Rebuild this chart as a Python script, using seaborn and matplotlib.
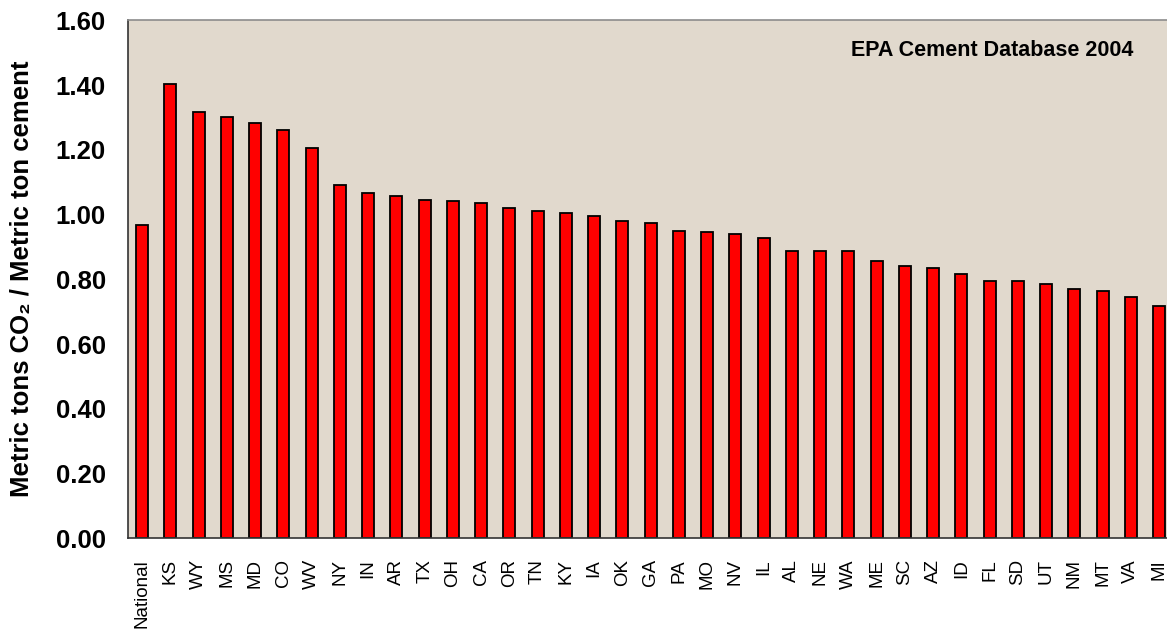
import matplotlib
matplotlib.use("Agg")
import matplotlib.pyplot as plt
import seaborn as sns
import numpy as np
from matplotlib.ticker import FormatStrFormatter, FixedLocator

# values
states = ["National", "KS", "WY", "MS", "MD", "CO", "WV", "NY", "IN", "AR",
          "TX", "OH", "CA", "OR", "TN", "KY", "IA", "OK", "GA", "PA",
          "MO", "NV", "IL", "AL", "NE", "WA", "ME", "SC", "AZ", "ID",
          "FL", "SD", "UT", "NM", "MT", "VA", "MI"]
co2_per_ton = [0.969, 1.405, 1.318, 1.303, 1.283, 1.262, 1.205, 1.092, 1.067, 1.057,
               1.046, 1.041, 1.036, 1.021, 1.010, 1.005, 0.995, 0.981, 0.975, 0.950,
               0.945, 0.939, 0.929, 0.888, 0.888, 0.888, 0.857, 0.842, 0.836, 0.816,
               0.795, 0.795, 0.785, 0.770, 0.764, 0.744, 0.718]
y_ticks = [0.0, 0.2, 0.4, 0.6, 0.8, 1.0, 1.2, 1.4, 1.6]

sns.set_style("white")
plt.rcParams["font.family"] = ["Liberation Sans", "DejaVu Sans"]
plt.rcParams["text.color"] = "black"
plt.rcParams["xtick.labelcolor"] = "black"
plt.rcParams["ytick.labelcolor"] = "black"

W, H = 1167, 633
fig = plt.figure(figsize=(W / 100, H / 100), dpi=100)
# plot area in pixels: left 128, bottom 538, top 20, 28.25 px per category
ax = fig.add_axes([128 / W, (H - 538.3) / H, 37 * 28.25 / W, (538.3 - 20.4) / H])
ax.set_facecolor("#e1d9cd")

sns.barplot(x=states, y=co2_per_ton, color="#ff0000", edgecolor="black",
            linewidth=1.3, width=0.42, saturation=1, ax=ax)

ax.set_xlim(-0.5, len(states) - 0.5)
ax.set_ylim(0, 1.6)
ax.set_yticks(y_ticks)
ax.yaxis.set_major_formatter(FormatStrFormatter("%.2f"))
ax.tick_params(axis="y", direction="out", length=6.5, width=1, color="#333333",
               pad=9.4, labelsize=18.5, labelcolor="black")
for lbl in ax.get_yticklabels():
    lbl.set_fontweight("bold")

# category labels at the centres, tick marks between the bars
pos = np.arange(len(states))
ax.xaxis.set_major_locator(FixedLocator(pos - 0.5))
ax.set_xticklabels([])
ax.set_xticks(pos, minor=True)
ax.set_xticklabels(states, minor=True, fontsize=13.5)
ax.tick_params(axis="x", which="major", direction="out", length=4.3, width=1, color="#333333")
ax.tick_params(axis="x", which="minor", length=0, pad=15, labelrotation=90,
               labelcolor="black")
ax.set_xlabel("")

for side in ["left", "bottom"]:
    ax.spines[side].set_color("#333333")
    ax.spines[side].set_linewidth(1.2)
ax.spines["top"].set_color("#8c8c8c")
ax.spines["top"].set_linewidth(1.2)
ax.spines["right"].set_visible(False)

fig.text(22 / W, 1 - 279 / H, "Metric tons CO\u2082 / Metric ton cement", rotation=90,
         ha="center", va="center", fontsize=18.5, fontweight="bold")
fig.text(1133 / W, 1 - 50 / H, "EPA Cement Database 2004", ha="right", va="center",
         fontsize=15.5, fontweight="bold")

fig.savefig("out.png", dpi=100)
